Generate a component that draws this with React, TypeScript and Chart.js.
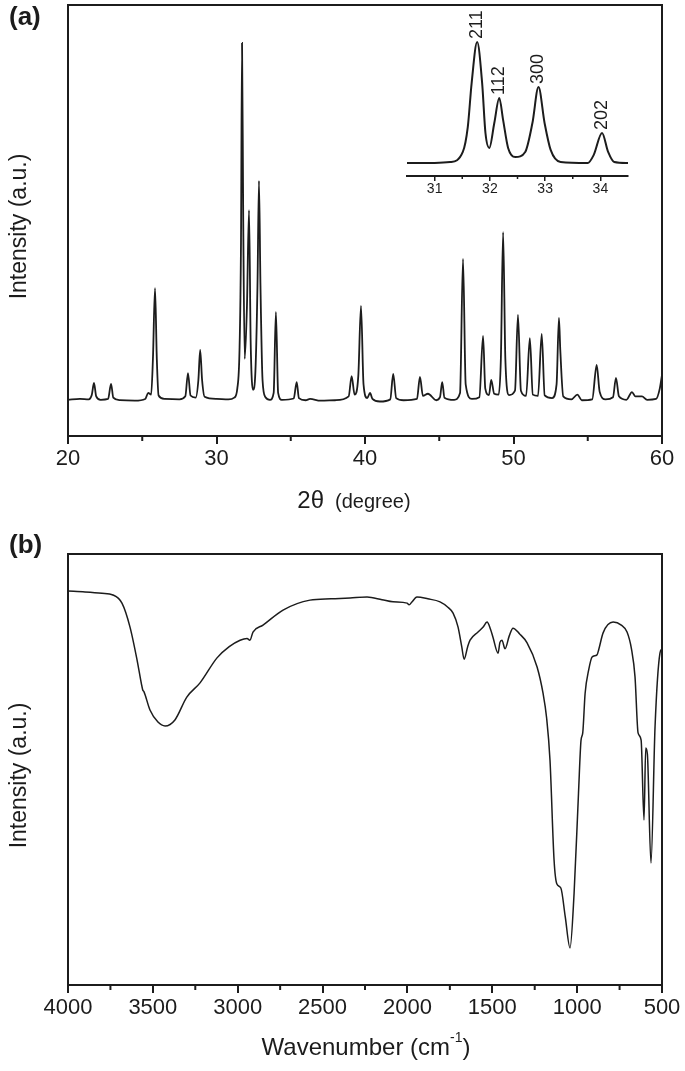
import React, { useEffect, useRef } from "react";
import { Chart, registerables } from "chart.js";

Chart.register(...registerables);

const FONT = "'Liberation Sans', Arial, Helvetica, sans-serif";
const INK = "#1c1c1c";

// ---------- Panel (a): XRD pattern ----------
const xrdTicks = [20, 30, 40, 50, 60];
const xrdMinorTicks = [25, 35, 45, 55];
const xrdTwoTheta = [
  20.0, 20.8, 21.4, 21.6, 21.75, 21.9, 22.2, 22.7, 22.9, 23.05,
  23.5, 24.5, 25.2, 25.4, 25.6, 25.72, 25.86, 25.98, 26.1, 26.5,
  27.5, 27.9, 28.08, 28.25, 28.6, 28.78, 28.9, 29.03, 29.2, 30.0,
  30.8, 31.2, 31.4, 31.55, 31.65, 31.72, 31.8, 31.9, 32.05, 32.19,
  32.3, 32.46, 32.62, 32.76, 32.86, 32.96, 33.1, 33.3, 33.6, 33.85,
  34.0, 34.15, 34.4, 35.2, 35.4, 35.55, 36.0, 36.3, 37.0, 38.0,
  38.9, 39.1, 39.3, 39.55, 39.73, 39.9, 40.15, 40.34, 40.5, 41.0,
  41.7, 41.9, 42.1, 42.6, 43.5, 43.7, 43.9, 44.24, 44.8, 45.05,
  45.2, 45.35, 46.0, 46.4, 46.6, 46.78, 47.2, 47.7, 47.95, 48.1,
  48.35, 48.5, 48.7, 49.0, 49.15, 49.3, 49.45, 49.7, 50.1, 50.3,
  50.5, 50.85, 51.1, 51.3, 51.65, 51.9, 52.1, 52.6, 52.9, 53.06,
  53.15, 53.35, 53.9, 54.3, 54.6, 55.3, 55.6, 55.8, 56.2, 56.7,
  56.9, 57.1, 57.6, 57.98, 58.2, 58.65, 59.0, 59.6, 59.85, 60.0,
];
const xrdIntensity = [
  8.4, 8.6, 8.5, 9.5, 12.3, 9.2, 8.4, 8.6, 12.1, 8.9,
  8.3, 8.2, 8.6, 10.0, 9.6, 18.0, 34.3, 18.0, 9.4, 8.6,
  8.5, 9.2, 14.6, 9.4, 8.9, 13.0, 20.0, 13.0, 9.1, 8.6,
  8.5, 8.9, 11.0, 20.0, 45.0, 91.2, 50.0, 17.9, 30.0, 52.4,
  22.0, 10.7, 15.0, 35.0, 59.2, 35.0, 13.0, 9.0, 8.4, 10.0,
  28.8, 10.0, 8.4, 8.7, 12.5, 8.8, 8.3, 8.6, 8.2, 8.3,
  9.2, 13.9, 9.6, 14.0, 30.2, 12.0, 8.8, 10.0, 8.6, 8.0,
  8.5, 14.4, 8.8, 8.3, 8.6, 13.7, 9.3, 9.8, 8.3, 9.0,
  12.5, 8.9, 8.4, 10.0, 41.1, 12.0, 8.6, 9.0, 23.2, 11.0,
  9.5, 13.0, 9.8, 9.6, 18.0, 47.3, 18.0, 9.5, 10.5, 28.1,
  10.5, 9.3, 22.7, 9.6, 9.3, 23.7, 9.4, 8.8, 12.0, 27.4,
  20.0, 9.2, 8.5, 9.6, 8.3, 8.5, 16.5, 10.3, 8.5, 9.0,
  13.5, 9.2, 8.4, 10.2, 9.2, 9.2, 8.4, 8.6, 11.0, 14.2,
];

// ---------- Inset of panel (a) ----------
const insetTicks = [31, 32, 33, 34];
const insetMinorTicks = [31.5, 32.5, 33.5];
const insetTwoTheta = [
  30.5, 31.0, 31.28, 31.51, 31.6, 31.67, 31.77, 31.86, 31.92, 31.99,
  32.08, 32.17, 32.24, 32.33, 32.46, 32.64, 32.77, 32.88, 32.99, 33.1,
  33.28, 33.77, 33.88, 34.03, 34.14, 34.25, 34.5,
];
const insetIntensity = [
  7.8, 7.9, 8.4, 14.5, 29.5, 56, 80.7, 56, 25.9, 16.9,
  31.9, 47, 33.7, 16.9, 11.4, 14.5, 31.9, 53.6, 31.9, 15.7,
  8.4, 7.8, 12.7, 25.9, 14.5, 8.4, 7.8,
];
const insetPeakLabels = ["211", "112", "300", "202"];
const insetPeakPos = [31.77, 32.17, 32.88, 34.03];
const insetPeakTop = [80.7, 47, 53.6, 25.9];

// ---------- Panel (b): FTIR spectrum ----------
const ftirTicks = [4000, 3500, 3000, 2500, 2000, 1500, 1000, 500];
const ftirMinorTicks = [3750, 3250, 2750, 2250, 1750, 1250, 750];
const ftirWavenumber = [
  4000, 3900, 3800, 3735, 3682, 3635, 3593, 3568, 3560, 3552,
  3517, 3470, 3428, 3370, 3300, 3222, 3122, 3050, 2986, 2945,
  2928, 2910, 2851, 2733, 2574, 2450, 2338, 2238, 2150, 2085,
  2002, 1990, 1975, 1944, 1880, 1808, 1760, 1731, 1702, 1680,
  1666, 1645, 1631, 1584, 1555, 1531, 1510, 1496, 1466, 1455,
  1443, 1425, 1400, 1378, 1340, 1295, 1236, 1201, 1180, 1160,
  1136, 1120, 1096, 1070, 1042, 1018, 992, 977, 967, 953,
  932, 912, 883, 873, 847, 788, 740, 706, 680, 659,
  641, 623, 606, 596, 586, 565, 541, 512, 500,
];
const ftirIntensity = [
  91.4, 91.2, 90.9, 90.5, 88.6, 83.1, 75.4, 70.0, 68.5, 68.0,
  63.8, 61.0, 60.1, 61.5, 66.8, 70.1, 75.9, 78.5, 80.0, 80.4,
  80.0, 81.9, 83.5, 87.0, 89.3, 89.6, 89.8, 90.0, 89.4, 88.9,
  88.6, 88.2, 88.8, 90.0, 89.6, 88.9, 87.6, 86.3, 83.1, 78.5,
  75.6, 78.5, 80.0, 81.9, 83.0, 84.2, 82.5, 80.7, 77.0, 79.5,
  80.0, 78.0, 81.0, 82.8, 81.5, 79.4, 73.8, 67.7, 62.0, 52.2,
  29.0, 23.5, 22.5, 15.8, 8.6, 21.3, 44.5, 56.8, 58.5, 67.7,
  73.1, 76.1, 76.6, 77.8, 81.7, 84.2, 83.5, 81.9, 78.0, 71.5,
  58.5, 56.8, 38.3, 55.0, 53.5, 28.3, 59.9, 77.0, 78.0,
];

const toPoints = (xs: number[], ys: number[]) => xs.map((x, i) => ({ x, y: ys[i] }));

function decorPlugin(cfg: {
  frame: boolean;
  minor: number[];
  minorLen: number;
  minorWidth: number;
  draw?: (ctx: CanvasRenderingContext2D, chart: any) => void;
}) {
  return {
    id: "decor",
    afterDraw(chart: any) {
      const ctx: CanvasRenderingContext2D = chart.ctx;
      const a = chart.chartArea;
      const xs = chart.scales.x;
      ctx.save();
      ctx.strokeStyle = INK;
      if (cfg.frame) {
        ctx.lineWidth = 2;
        ctx.strokeRect(a.left, a.top, a.right - a.left, a.bottom - a.top);
      }
      ctx.lineWidth = cfg.minorWidth;
      for (const v of cfg.minor) {
        const px = xs.getPixelForValue(v);
        ctx.beginPath();
        ctx.moveTo(px, a.bottom);
        ctx.lineTo(px, a.bottom + cfg.minorLen);
        ctx.stroke();
      }
      ctx.restore();
      if (cfg.draw) {
        ctx.save();
        ctx.fillStyle = INK;
        cfg.draw(ctx, chart);
        ctx.restore();
      }
    },
  };
}

function xAxis(o: {
  min: number;
  max: number;
  ticks: number[];
  reverse?: boolean;
  height: number;
  fontSize: number;
  tickLength: number;
  lineWidth: number;
  padding: number;
}) {
  return {
    type: "linear",
    min: o.min,
    max: o.max,
    reverse: !!o.reverse,
    afterBuildTicks: (scale: any) => {
      scale.ticks = o.ticks.map((v) => ({ value: v }));
    },
    afterFit: (scale: any) => {
      scale.height = o.height;
    },
    ticks: {
      font: { family: FONT, size: o.fontSize },
      color: INK,
      padding: o.padding,
      maxRotation: 0,
      minRotation: 0,
      autoSkip: false,
      callback: (v: any) => String(v),
    },
    grid: {
      drawOnChartArea: false,
      drawTicks: true,
      tickLength: o.tickLength,
      color: INK,
      lineWidth: o.lineWidth,
    },
    border: { display: true, color: INK, width: 2 },
  };
}

function yAxisTitle(ctx: CanvasRenderingContext2D, chart: any, text: string) {
  const a = chart.chartArea;
  ctx.save();
  ctx.translate(20, (a.top + a.bottom) / 2 + 6);
  ctx.rotate(-Math.PI / 2);
  ctx.font = `23px ${FONT}`;
  ctx.textAlign = "center";
  ctx.textBaseline = "middle";
  ctx.fillText(text, 0, 0);
  ctx.restore();
}

function buildXrd() {
  return {
    type: "line",
    data: {
      datasets: [
        {
          data: toPoints(xrdTwoTheta, xrdIntensity),
          borderColor: INK,
          borderWidth: 1.8,
          pointRadius: 0,
          cubicInterpolationMode: "monotone",
          fill: false,
        },
      ],
    },
    options: {
      responsive: false,
      animation: false,
      devicePixelRatio: 1,
      layout: { padding: { left: 68, right: 23, top: 5, bottom: 0 } },
      plugins: { legend: { display: false }, tooltip: { enabled: false }, title: { display: false } },
      scales: {
        x: xAxis({ min: 20, max: 60, ticks: xrdTicks, height: 84, fontSize: 22, tickLength: 8, lineWidth: 2, padding: 2 }),
        y: { display: false, min: 0, max: 100 },
      },
    },
    plugins: [
      decorPlugin({
        frame: true,
        minor: xrdMinorTicks,
        minorLen: 5,
        minorWidth: 2,
        draw: (ctx, chart) => {
          ctx.font = `bold 26px ${FONT}`;
          ctx.textBaseline = "middle";
          ctx.textAlign = "left";
          ctx.fillText("(a)", 9, 18);
          yAxisTitle(ctx, chart, "Intensity (a.u.)");
          // x title: "2θ  (degree)"
          ctx.textBaseline = "middle";
          ctx.font = `24px ${FONT}`;
          const w1 = ctx.measureText("2θ").width;
          ctx.font = `20px ${FONT}`;
          const w2 = ctx.measureText("(degree)").width;
          const gap = 11;
          const start = 354 - (w1 + gap + w2) / 2;
          ctx.font = `24px ${FONT}`;
          ctx.fillText("2θ", start, 501);
          ctx.font = `20px ${FONT}`;
          ctx.fillText("(degree)", start + w1 + gap, 502);
        },
      }),
    ],
  };
}

function buildInset() {
  return {
    type: "line",
    data: {
      datasets: [
        {
          data: toPoints(insetTwoTheta, insetIntensity),
          borderColor: INK,
          borderWidth: 2,
          pointRadius: 0,
          cubicInterpolationMode: "monotone",
          fill: false,
        },
      ],
    },
    options: {
      responsive: false,
      animation: false,
      devicePixelRatio: 1,
      layout: { padding: { left: 7, right: 32, top: 10, bottom: 0 } },
      plugins: { legend: { display: false }, tooltip: { enabled: false } },
      scales: {
        x: xAxis({ min: 30.5, max: 34.5, ticks: insetTicks, height: 24, fontSize: 14, tickLength: 5, lineWidth: 1.5, padding: 0 }),
        y: { display: false, min: 0, max: 100 },
      },
    },
    plugins: [
      decorPlugin({
        frame: false,
        minor: insetMinorTicks,
        minorLen: 3,
        minorWidth: 1.5,
        draw: (ctx, chart) => {
          const xs = chart.scales.x;
          const ys = chart.scales.y;
          ctx.font = `18px ${FONT}`;
          ctx.textAlign = "left";
          ctx.textBaseline = "middle";
          insetPeakLabels.forEach((label, i) => {
            const px = xs.getPixelForValue(insetPeakPos[i]);
            const py = ys.getPixelForValue(insetPeakTop[i]) - 3;
            ctx.save();
            ctx.translate(px, py);
            ctx.rotate(-Math.PI / 2);
            ctx.fillText(label, 0, 0);
            ctx.restore();
          });
        },
      }),
    ],
  };
}

function buildFtir() {
  return {
    type: "line",
    data: {
      datasets: [
        {
          data: toPoints(ftirWavenumber, ftirIntensity),
          borderColor: INK,
          borderWidth: 1.5,
          pointRadius: 0,
          cubicInterpolationMode: "monotone",
          fill: false,
        },
      ],
    },
    options: {
      responsive: false,
      animation: false,
      devicePixelRatio: 1,
      layout: { padding: { left: 68, right: 23, top: 24, bottom: 0 } },
      plugins: { legend: { display: false }, tooltip: { enabled: false } },
      scales: {
        x: xAxis({ min: 500, max: 4000, reverse: true, ticks: ftirTicks, height: 86, fontSize: 22, tickLength: 8, lineWidth: 2, padding: 2 }),
        y: { display: false, min: 0, max: 100 },
      },
    },
    plugins: [
      decorPlugin({
        frame: true,
        minor: ftirMinorTicks,
        minorLen: 5,
        minorWidth: 2,
        draw: (ctx, chart) => {
          ctx.font = `bold 26px ${FONT}`;
          ctx.textBaseline = "middle";
          ctx.textAlign = "left";
          ctx.fillText("(b)", 9, 16);
          yAxisTitle(ctx, chart, "Intensity (a.u.)");
          // x title with superscript
          const main = "Wavenumber (cm";
          const sup = "-1";
          const close = ")";
          ctx.font = `24px ${FONT}`;
          const w1 = ctx.measureText(main).width;
          const w3 = ctx.measureText(close).width;
          ctx.font = `14px ${FONT}`;
          const w2 = ctx.measureText(sup).width;
          const start = 366 - (w1 + w2 + w3) / 2;
          const y = 518;
          ctx.font = `24px ${FONT}`;
          ctx.fillText(main, start, y);
          ctx.font = `14px ${FONT}`;
          ctx.fillText(sup, start + w1, y - 10);
          ctx.font = `24px ${FONT}`;
          ctx.fillText(close, start + w1 + w2, y);
        },
      }),
    ],
  };
}

function ChartCanvas(props: { left: number; top: number; width: number; height: number; build: () => any }) {
  const ref = useRef<HTMLCanvasElement | null>(null);
  const { left, top, width, height, build } = props;
  useEffect(() => {
    if (!ref.current) return;
    const chart = new Chart(ref.current, build());
    return () => chart.destroy();
  }, [build]);
  return (
    <canvas
      ref={ref}
      width={width}
      height={height}
      style={{ position: "absolute", left, top, width, height }}
    />
  );
}

export default function App() {
  return (
    <div
      style={{
        position: "absolute",
        left: 0,
        top: 0,
        width: 685,
        height: 1071,
        background: "#ffffff",
        overflow: "hidden",
      }}
    >
      <ChartCanvas left={0} top={0} width={685} height={520} build={buildXrd} />
      <ChartCanvas left={400} top={0} width={260} height={200} build={buildInset} />
      <ChartCanvas left={0} top={530} width={685} height={541} build={buildFtir} />
    </div>
  );
}
